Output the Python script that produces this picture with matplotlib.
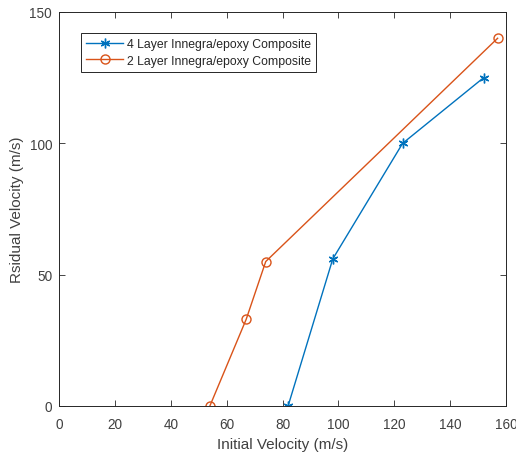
import matplotlib
matplotlib.use("Agg")
import matplotlib.pyplot as plt

plt.rcParams['font.family'] = ['Liberation Sans', 'DejaVu Sans']

# data
v_init_4 = [82, 98, 123, 152]
v_res_4 = [0, 56, 100, 125]
v_init_2 = [54, 67, 74, 157]
v_res_2 = [0, 33, 55, 140]

fig = plt.figure(figsize=(5.16, 4.56), dpi=100)
ax = fig.add_axes([59/516, 49/456, 447/516, 394/456])

ax.plot(v_init_4, v_res_4, color='#0072BD', marker=(6, 2, 0), markersize=7,
        markeredgewidth=1, linewidth=1, label='4 Layer Innegra/epoxy Composite')
ax.plot(v_init_2, v_res_2, color='#D95319', marker='o', markersize=6.5, linewidth=1,
        markerfacecolor='none', label='2 Layer Innegra/epoxy Composite')

ax.set_xlim(0, 160)
ax.set_ylim(0, 150)
ax.set_xticks(range(0, 161, 20))
ax.set_yticks([0, 50, 100, 150])
ax.tick_params(direction='in', top=True, right=True, labelsize=9.8,
               labelcolor='#404040', color='#262626', length=4, width=0.6)
ax.tick_params(axis='x', pad=8)
ax.tick_params(axis='y', pad=5)
for s in ax.spines.values():
    s.set_color('#262626')
    s.set_linewidth(0.7)

ax.set_xlabel('Initial Velocity (m/s)', fontsize=11, color='#404040', labelpad=4)
ax.set_ylabel('Rsidual Velocity (m/s)', fontsize=11, color='#404040')

leg = ax.legend(loc='upper left', bbox_to_anchor=(0.049, 0.947), borderaxespad=0,
                fontsize=8.8, fancybox=False, framealpha=1, edgecolor='#262626',
                handlelength=3, borderpad=0.45, labelspacing=0.35, handletextpad=0.3)
leg.get_frame().set_linewidth(0.7)
for t in leg.get_texts():
    t.set_color('#262626')

fig.savefig('out.png', dpi=100)
